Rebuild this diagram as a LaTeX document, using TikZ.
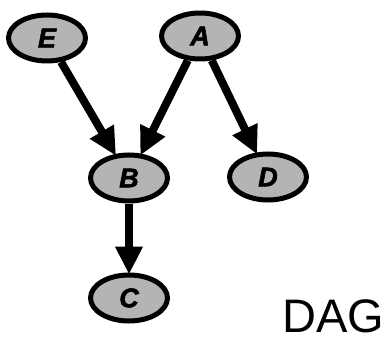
\documentclass[tikz,border=0pt]{standalone}
\usepackage{fontspec}
\setmainfont{Liberation Sans}
\newfontfamily\heavyfont{Liberation Sans}[UprightFont={* Bold Italic},FakeBold=2]
\usetikzlibrary{arrows.meta,shapes.geometric}
\begin{document}
\begin{tikzpicture}[x=1pt,y=-1pt,
  vnode/.style={ellipse,draw=black,line width=5pt,fill={rgb,255:red,180;green,180;blue,180},
    minimum width=77pt,minimum height=46pt,inner sep=0pt,
    font=\fontsize{27}{27}\heavyfont},
  edge/.style={line width=8pt,-{Triangle[length=28pt,width=26pt]},shorten >=-2pt}]
\useasboundingbox (0,0) rectangle (385,339);
\node[vnode] (E) at (47,38) {E};
\node[vnode] (A) at (200,36) {A};
\node[vnode] (B) at (129,178) {B};
\node[vnode] (D) at (268,177) {D};
\node[vnode] (C) at (129,298) {C};
\draw[edge] (E) -- (B);
\draw[edge] (A) -- (B);
\draw[edge] (A) -- (D);
\draw[edge] (B) -- (C);
\node[font=\fontsize{47}{47}\selectfont,anchor=base west,inner sep=0pt] (dag) at (282,332) {DAG};
\end{tikzpicture}
\end{document}
